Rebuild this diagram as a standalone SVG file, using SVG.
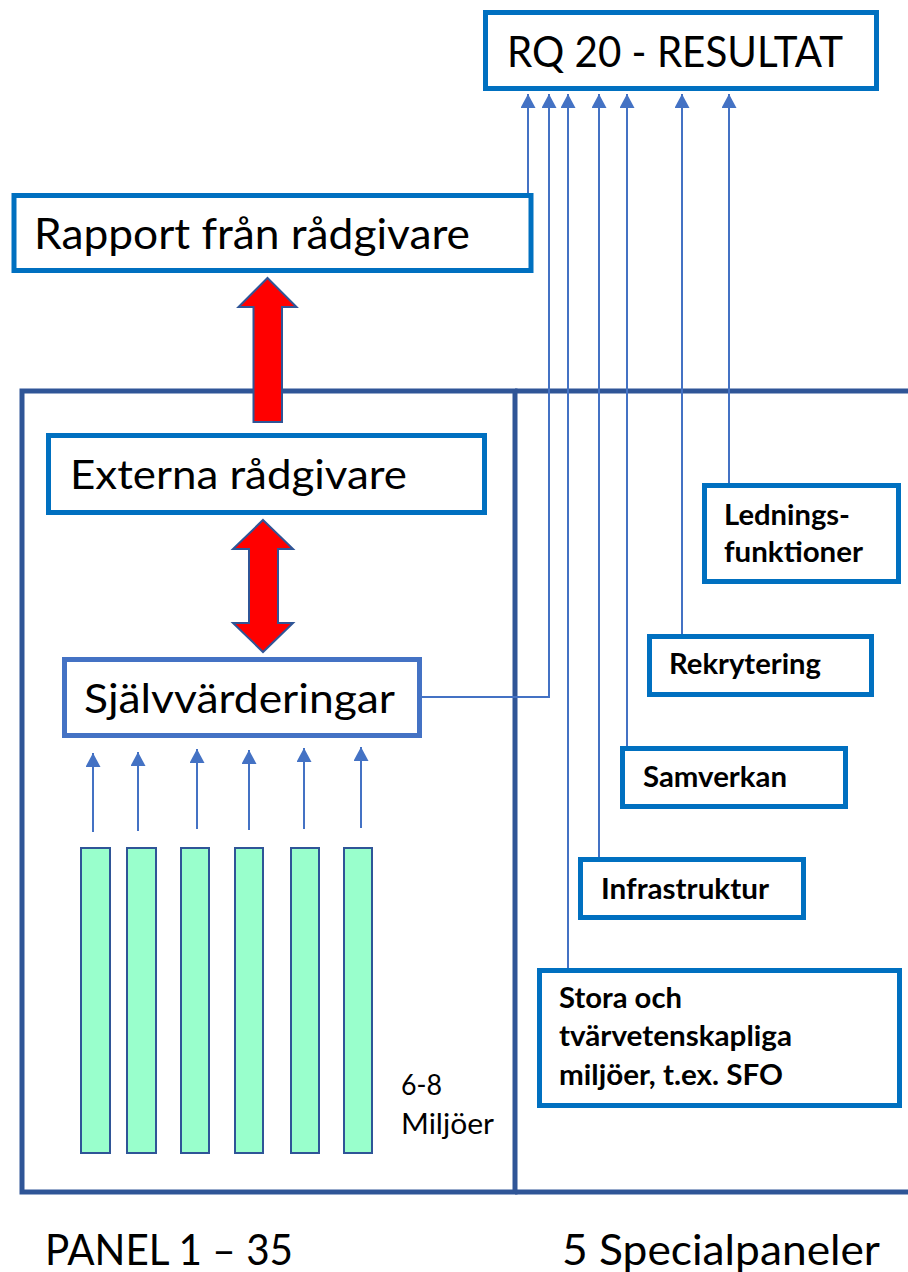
<svg xmlns="http://www.w3.org/2000/svg" width="908" height="1272" viewBox="0 0 908 1272">
<style>
.box{fill:#fff;stroke:#0070C0;stroke-width:5}
.box2{fill:#fff;stroke:#4472C4;stroke-width:5}
.panel{fill:none;stroke:#2F5597;stroke-width:5}
.con{fill:none;stroke:#4472C4;stroke-width:2}
.red{fill:#FF0000;stroke:#2F5597;stroke-width:2}
.bar{fill:#99FFCC;stroke:#2F5597;stroke-width:2}
.t{font-family:Lato,"Liberation Sans",sans-serif;fill:#000}
.big{font-size:42px}
.b{font-family:Lato,"Liberation Sans",sans-serif;font-weight:bold;font-size:28px;fill:#000}
.sm{font-family:Lato,"Liberation Sans",sans-serif;font-size:28px;fill:#000}
</style>
<defs>
<marker id="ah" markerUnits="userSpaceOnUse" markerWidth="16" markerHeight="16" refX="14" refY="7.5" orient="auto">
<path d="M0,0 L14,7.5 L0,15 Z" fill="#4472C4"/>
</marker>
</defs>

<g id="panels">
<rect class="panel" x="22" y="391" width="493" height="801"/>
<line class="panel" x1="515" y1="391" x2="912" y2="391"/>
<line class="panel" x1="515" y1="1192" x2="912" y2="1192"/>
</g>

<g id="connectors">
<path class="con" d="M528,193 V94" marker-end="url(#ah)"/>
<path class="con" d="M422,697 H549 V94" marker-end="url(#ah)"/>
<path class="con" d="M568,968 V94" marker-end="url(#ah)"/>
<path class="con" d="M599,857 V94" marker-end="url(#ah)"/>
<path class="con" d="M627,746 V94" marker-end="url(#ah)"/>
<path class="con" d="M682,634 V94" marker-end="url(#ah)"/>
<path class="con" d="M729,483 V94" marker-end="url(#ah)"/>
<path class="con" d="M93,832 V753" marker-end="url(#ah)"/>
<path class="con" d="M138,831 V752" marker-end="url(#ah)"/>
<path class="con" d="M197,829 V749" marker-end="url(#ah)"/>
<path class="con" d="M249,830 V750" marker-end="url(#ah)"/>
<path class="con" d="M304,829 V748" marker-end="url(#ah)"/>
<path class="con" d="M361,828 V747" marker-end="url(#ah)"/>
<polygon class="red" points="267.5,278 296.5,307 282,307 282,422 253.5,422 253.5,307 238.5,307"/>
<polygon class="red" points="263,520 293,549 278,549 278,623 293,623 263,652 233,623 249,623 249,549 233,549"/>
</g>

<g id="rq">
<rect class="box" x="485.5" y="12.5" width="391" height="76"/>
<text class="t big" x="507" y="67" textLength="336" lengthAdjust="spacingAndGlyphs">RQ 20 - RESULTAT</text>
</g>
<g id="rapport">
<rect class="box" x="14" y="195.5" width="517" height="75"/>
<text class="t big" x="34" y="249" textLength="436" lengthAdjust="spacingAndGlyphs">Rapport från rådgivare</text>
</g>
<g id="externa">
<rect class="box" x="48.5" y="435.5" width="436" height="77"/>
<text class="t" font-size="41" x="70" y="489" textLength="337" lengthAdjust="spacingAndGlyphs">Externa rådgivare</text>
</g>
<g id="sjalv">
<rect class="box2" x="64.5" y="659.5" width="355" height="76"/>
<text class="t" font-size="40" x="84" y="713" textLength="311" lengthAdjust="spacingAndGlyphs">Självvärderingar</text>
</g>
<g id="miljoer">
<rect class="bar" x="81" y="848" width="29" height="305"/>
<rect class="bar" x="127" y="848" width="29" height="305"/>
<rect class="bar" x="181" y="848" width="28" height="305"/>
<rect class="bar" x="235" y="848" width="28" height="305"/>
<rect class="bar" x="291" y="848" width="28" height="305"/>
<rect class="bar" x="344" y="848" width="28" height="305"/>
<text class="sm" x="401" y="1095" textLength="41" lengthAdjust="spacingAndGlyphs">6-8</text>
<text class="sm" x="401" y="1134" textLength="93" lengthAdjust="spacingAndGlyphs">Miljöer</text>
</g>
<g id="ledning">
<rect class="box" x="704.5" y="485.5" width="194" height="96"/>
<text class="b" x="724" y="525" textLength="126" lengthAdjust="spacingAndGlyphs">Lednings-</text>
<text class="b" x="724" y="562" textLength="139" lengthAdjust="spacingAndGlyphs">funktioner</text>
</g>
<g id="rekrytering">
<rect class="box" x="649.5" y="636.5" width="222" height="58"/>
<text class="b" x="669" y="674" textLength="152" lengthAdjust="spacingAndGlyphs">Rekrytering</text>
</g>
<g id="samverkan">
<rect class="box" x="622.5" y="748.5" width="223" height="58"/>
<text class="b" x="643" y="787" textLength="144" lengthAdjust="spacingAndGlyphs">Samverkan</text>
</g>
<g id="infra">
<rect class="box" x="580.5" y="859.5" width="223" height="58"/>
<text class="b" x="601" y="899" textLength="168" lengthAdjust="spacingAndGlyphs">Infrastruktur</text>
</g>
<g id="stora">
<rect class="box" x="539.5" y="970.5" width="360" height="135"/>
<text class="b" x="559" y="1008" textLength="123" lengthAdjust="spacingAndGlyphs">Stora och</text>
<text class="b" x="559" y="1046" textLength="233" lengthAdjust="spacingAndGlyphs">tvärvetenskapliga</text>
<text class="b" x="559" y="1085" textLength="224" lengthAdjust="spacingAndGlyphs">miljöer, t.ex. SFO</text>
</g>
<g id="labels">
<text class="t" font-size="42" x="45" y="1265" textLength="248" lengthAdjust="spacingAndGlyphs">PANEL 1 – 35</text>
<text class="t" font-size="42" x="562" y="1265" textLength="318" lengthAdjust="spacingAndGlyphs">5 Specialpaneler</text>
</g>
</svg>
